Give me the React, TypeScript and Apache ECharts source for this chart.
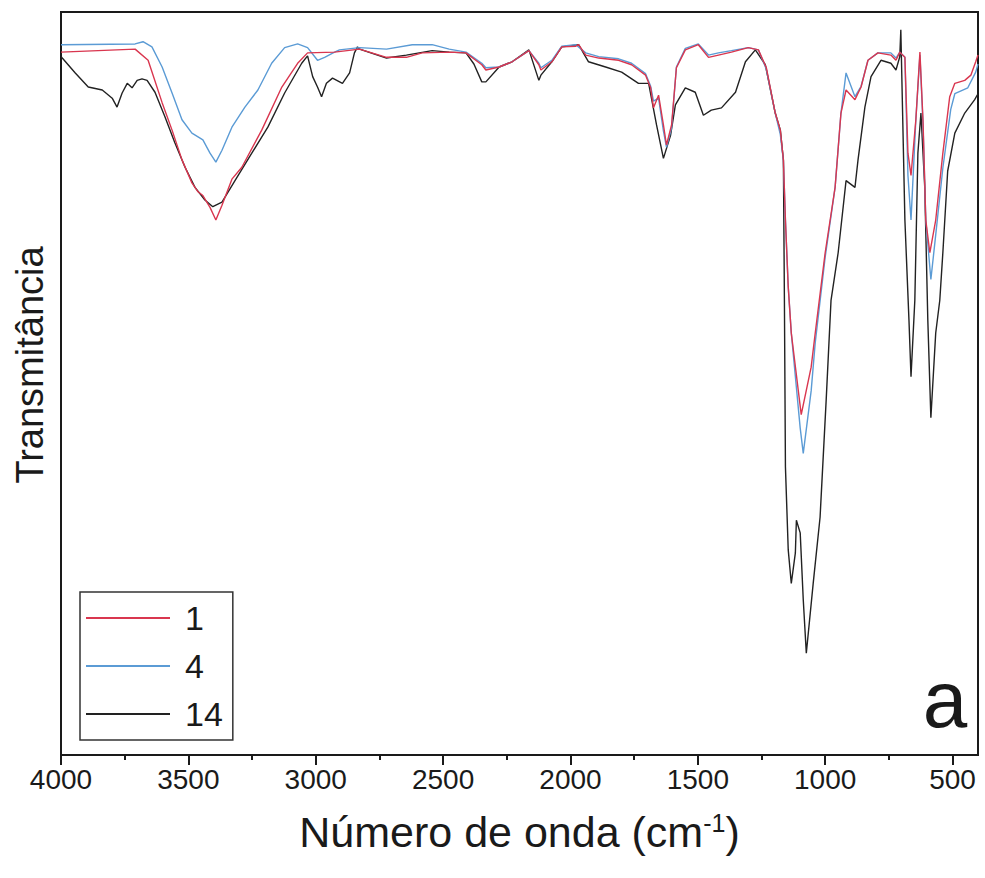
import React, { useEffect, useRef } from 'react';
import * as echarts from 'echarts';

const majorTicks = [4000, 3500, 3000, 2500, 2000, 1500, 1000, 500];
const minorTicks = [3750, 3250, 2750, 2250, 1750, 1250, 750];
const legendNames = ['1', '4', '14'];

const s1Wn = [4000, 3709, 3658, 3603, 3564, 3525, 3486, 3462, 3443, 3415, 3392, 3368, 3329, 3290, 3212, 3133, 3071, 3032, 2926, 2828, 2722, 2644, 2582, 2476, 2410, 2348, 2332, 2280, 2229, 2163, 2124, 2116, 2073, 2034, 1979, 1968, 1940, 1889, 1811, 1760, 1705, 1685, 1674, 1654, 1635, 1623, 1603, 1584, 1549, 1498, 1458, 1419, 1368, 1302, 1262, 1231, 1196, 1176, 1164, 1156, 1145, 1133, 1094, 1055, 1039, 1000, 961, 938, 918, 883, 859, 832, 793, 742, 722, 707, 687, 675, 663, 644, 628, 616, 605, 589, 566, 538, 511, 491, 452, 428, 409, 400];
const s1T = [94.6, 95.0, 93.5, 87.8, 84.1, 80.1, 77.0, 75.8, 75.3, 73.7, 72.0, 74.0, 77.5, 79.1, 84.1, 89.9, 93.1, 94.5, 94.6, 95.0, 93.9, 93.9, 94.5, 94.6, 94.5, 92.9, 92.2, 92.6, 93.3, 94.8, 92.9, 92.2, 93.3, 95.3, 95.4, 95.6, 94.2, 93.8, 93.5, 92.9, 91.5, 89.8, 87.1, 88.8, 84.8, 82.1, 84.8, 92.5, 94.9, 95.6, 93.9, 94.2, 94.6, 95.2, 94.9, 92.5, 86.4, 84.1, 80.1, 72.0, 63.0, 56.8, 45.8, 52.2, 56.8, 67.6, 76.4, 86.4, 89.5, 88.2, 89.9, 93.5, 94.5, 94.2, 93.5, 94.6, 93.9, 81.0, 78.0, 85.5, 94.6, 85.5, 72.0, 67.6, 72.0, 81.0, 88.6, 90.4, 90.8, 91.5, 93.3, 94.2];

const s4Wn = [4000, 3709, 3678, 3643, 3603, 3564, 3525, 3486, 3462, 3443, 3415, 3392, 3368, 3329, 3278, 3227, 3173, 3122, 3071, 3032, 2993, 2965, 2926, 2907, 2828, 2722, 2621, 2543, 2476, 2410, 2348, 2332, 2280, 2229, 2163, 2124, 2116, 2073, 2034, 1979, 1940, 1889, 1811, 1760, 1705, 1685, 1674, 1654, 1635, 1623, 1603, 1584, 1549, 1498, 1458, 1419, 1368, 1302, 1262, 1231, 1196, 1176, 1164, 1156, 1145, 1133, 1098, 1086, 1055, 1039, 1000, 961, 938, 918, 883, 859, 832, 793, 742, 722, 707, 687, 675, 663, 644, 628, 616, 605, 585, 566, 538, 507, 491, 440, 409, 400];
const s4T = [95.6, 95.7, 96.0, 95.3, 92.6, 89.1, 85.5, 83.7, 83.2, 82.8, 81.0, 79.8, 81.4, 84.5, 87.2, 89.5, 93.1, 95.2, 95.7, 95.2, 93.5, 93.9, 94.6, 94.9, 95.2, 95.0, 95.6, 95.6, 95.0, 94.6, 93.1, 92.5, 92.6, 93.3, 94.8, 93.1, 92.5, 93.5, 95.4, 95.6, 94.5, 94.0, 93.7, 93.1, 91.7, 90.0, 88.0, 88.4, 84.0, 81.8, 84.4, 92.6, 95.1, 95.7, 94.2, 94.5, 94.8, 95.2, 94.9, 92.3, 86.4, 83.5, 80.0, 72.0, 63.0, 56.8, 44.0, 40.6, 49.0, 55.5, 67.0, 76.4, 86.4, 91.8, 88.6, 90.0, 93.5, 94.5, 94.5, 93.8, 94.6, 93.9, 78.0, 72.0, 85.5, 94.2, 85.0, 72.0, 64.0, 70.0, 79.0, 86.9, 89.0, 89.8, 91.9, 93.0];

const s14Wn = [4000, 3995, 3944, 3893, 3838, 3799, 3780, 3760, 3740, 3721, 3701, 3682, 3662, 3631, 3592, 3553, 3513, 3474, 3435, 3404, 3368, 3317, 3251, 3188, 3122, 3055, 3032, 3012, 2993, 2977, 2958, 2934, 2895, 2867, 2848, 2836, 2828, 2722, 2644, 2543, 2476, 2410, 2379, 2348, 2332, 2280, 2229, 2163, 2124, 2116, 2073, 2034, 1968, 1929, 1862, 1799, 1733, 1693, 1662, 1635, 1607, 1588, 1549, 1510, 1478, 1447, 1407, 1352, 1313, 1274, 1235, 1196, 1176, 1164, 1160, 1156, 1145, 1133, 1117, 1113, 1098, 1086, 1074, 1047, 1020, 996, 977, 949, 918, 883, 871, 844, 820, 781, 742, 722, 707, 703, 687, 671, 663, 648, 636, 624, 609, 597, 585, 566, 550, 538, 519, 491, 452, 413, 400];
const s14T = [94.0, 93.8, 91.8, 89.9, 89.5, 88.4, 87.2, 89.1, 90.4, 89.8, 90.8, 91.0, 90.8, 89.2, 85.9, 82.4, 79.1, 76.4, 74.7, 73.8, 74.4, 77.3, 81.0, 84.5, 89.1, 93.1, 94.1, 91.3, 89.9, 88.6, 90.4, 91.1, 90.4, 91.8, 94.5, 95.3, 95.0, 93.8, 94.2, 94.8, 94.6, 94.5, 93.0, 90.6, 90.6, 92.6, 93.3, 94.9, 90.8, 91.5, 93.3, 95.3, 95.6, 93.3, 92.6, 91.9, 90.4, 90.4, 84.8, 80.3, 83.4, 87.5, 89.8, 89.2, 86.1, 86.8, 87.1, 89.2, 93.3, 94.9, 92.9, 86.4, 84.1, 80.1, 61.2, 38.8, 27.6, 23.1, 27.2, 31.6, 29.9, 20.9, 13.7, 23.1, 32.0, 47.8, 61.2, 67.6, 77.3, 76.4, 80.1, 87.2, 91.3, 93.5, 93.1, 92.2, 94.0, 97.6, 72.0, 58.5, 50.9, 61.2, 81.0, 86.4, 76.4, 58.5, 45.4, 56.8, 61.2, 67.6, 78.6, 83.7, 86.4, 88.2, 89.0];

const FONT = '"Liberation Sans", Arial, sans-serif';
const INK = '#1a1a1a';

function zip(a: number[], b: number[]) {
  return a.map((x, i) => [x, b[i]]);
}

export default function App() {
  const ref = useRef<HTMLDivElement>(null);
  useEffect(() => {
    if (!ref.current) return;
    const chart = echarts.init(ref.current, null, { renderer: 'svg' });
    chart.setOption({
      animation: false,
      backgroundColor: '#ffffff',
      grid: {
        left: 61, top: 12, right: 7, bottom: 123,
        show: true, borderColor: INK, borderWidth: 2, backgroundColor: 'transparent',
      },
      legend: {
        data: legendNames,
        orient: 'vertical',
        left: 80,
        top: 592,
        padding: [9, 10, 9, 6],
        itemWidth: 84,
        itemHeight: 2,
        itemGap: 14,
        icon: 'rect',
        selectedMode: false,
        borderColor: '#333',
        borderWidth: 1.5,
        textStyle: { fontSize: 34, fontFamily: FONT, color: INK, padding: [0, 0, 0, 10] },
      },
      xAxis: [
        {
          type: 'value', min: 400, max: 4000, inverse: true, position: 'bottom',
          axisLine: { show: true, lineStyle: { color: INK, width: 2 } },
          axisTick: { show: true, customValues: majorTicks, length: 10, lineStyle: { color: INK, width: 2 } },
          axisLabel: {
            show: true, customValues: majorTicks, fontSize: 28, color: INK, fontFamily: FONT, margin: 10,
            formatter: (v: number) => String(v),
          },
          splitLine: { show: false },
          name: '{n|Número de onda (cm}{s|-1}{n|)}',
          nameLocation: 'middle',
          nameGap: 55,
          nameTextStyle: {
            rich: {
              n: { fontSize: 43, fontFamily: FONT, color: INK },
              s: { fontSize: 25, fontFamily: FONT, color: INK, verticalAlign: 'top' },
            },
          },
        },
        {
          type: 'value', min: 400, max: 4000, inverse: true, position: 'bottom', gridIndex: 0,
          axisLine: { show: false },
          axisTick: { show: true, customValues: minorTicks, length: 5, lineStyle: { color: INK, width: 2 } },
          axisLabel: { show: false },
          splitLine: { show: false },
        },
      ],
      yAxis: {
        type: 'value', min: 0, max: 100,
        axisLine: { show: true, lineStyle: { color: INK, width: 2 } },
        axisTick: { show: false },
        axisLabel: { show: false },
        splitLine: { show: false },
      },
      series: [
        {
          name: '14', type: 'line', data: zip(s14Wn, s14T), showSymbol: false, symbol: 'none',
          lineStyle: { color: '#222222', width: 1.4 }, itemStyle: { color: '#222222' },
        },
        {
          name: '4', type: 'line', data: zip(s4Wn, s4T), showSymbol: false, symbol: 'none',
          lineStyle: { color: '#5b9bd5', width: 1.4 }, itemStyle: { color: '#5b9bd5' },
        },
        {
          name: '1', type: 'line', data: zip(s1Wn, s1T), showSymbol: false, symbol: 'none',
          lineStyle: { color: '#d9364f', width: 1.4 }, itemStyle: { color: '#d9364f' },
        },
      ],
      graphic: [
        {
          type: 'text', x: 30, y: 365, rotation: Math.PI / 2,
          style: {
            text: 'Transmitância', fontSize: 38, fontFamily: FONT, fill: INK,
            align: 'center', verticalAlign: 'middle', textAlign: 'center', textVerticalAlign: 'middle',
          },
        },
        {
          type: 'text', x: 945, y: 699,
          style: {
            text: 'a', fontSize: 80, fontFamily: FONT, fill: INK,
            align: 'center', verticalAlign: 'middle', textAlign: 'center', textVerticalAlign: 'middle',
          },
        },
      ],
    });
    return () => chart.dispose();
  }, []);
  return <div ref={ref} style={{ position: 'fixed', left: 0, top: 0, width: 985, height: 878 }} />;
}
